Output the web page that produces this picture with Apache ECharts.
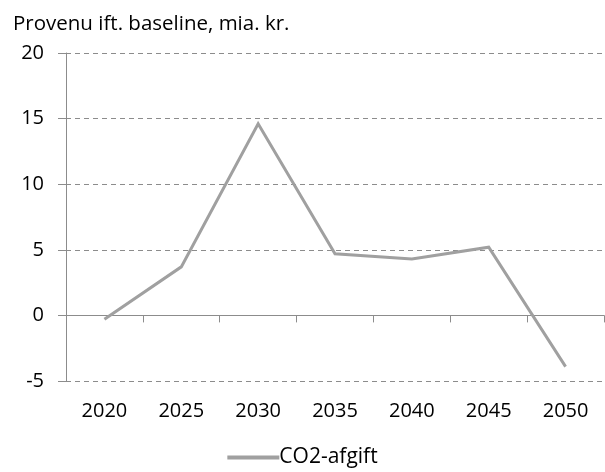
<!DOCTYPE html>
<html>
<head>
<meta charset="utf-8">
<script src="https://cdn.jsdelivr.net/npm/echarts@6/dist/echarts.min.js"></script>
<style>html,body{margin:0;padding:0;background:#fff}#c{width:605px;height:472px}</style>
</head>
<body>
<div id="c"></div>
<script>
const categories = ['2020','2025','2030','2035','2040','2045','2050'];
const co2Values = [-0.3, 3.7, 14.6, 4.7, 4.3, 5.2, -3.9];
const seriesName = 'CO2-afgift';
const titleText = 'Provenu ift. baseline, mia. kr.';
const FONT = '"Open Sans", sans-serif';

const chart = echarts.init(document.getElementById('c'), null, {renderer: 'canvas'});
chart.setOption({
  animation: false,
  backgroundColor: '#fff',
  title: {
    text: titleText, left: 8, top: 9,
    textStyle: {fontFamily: FONT, fontSize: 20.5, fontWeight: 'normal', color: '#000'}
  },
  legend: {
    data: [seriesName], top: 442, left: 'center', icon: 'rect',
    itemWidth: 52, itemHeight: 4, itemGap: 4,
    textStyle: {fontFamily: FONT, fontSize: 21, color: '#000', padding: [0,0,0,-5]}
  },
  grid: {left: 66, right: 1, top: 53, bottom: 91, containLabel: false},
  xAxis: [
    {
      type: 'category', data: categories, position: 'bottom', boundaryGap: true,
      axisLine: {onZero: true, lineStyle: {color: '#8c8c8c', width: 1}},
      axisTick: {show: true, length: 7, inside: false, lineStyle: {color: '#8c8c8c'}},
      axisLabel: {show: false}
    },
    {
      type: 'category', data: categories, position: 'bottom', boundaryGap: true,
      axisLine: {show: false, onZero: false}, axisTick: {show: false},
      axisLabel: {show: true, margin: 20, fontFamily: FONT, fontSize: 20, color: '#000'}
    }
  ],
  yAxis: {
    type: 'value', min: -5, max: 20, interval: 5,
    axisLine: {show: true, lineStyle: {color: '#8c8c8c'}},
    axisTick: {show: true, length: 8, lineStyle: {color: '#8c8c8c'}},
    axisLabel: {margin: 22, fontFamily: FONT, fontSize: 20, color: '#000'},
    splitLine: {show: true, lineStyle: {color: '#8c8c8c', type: [5, 4], width: 1}}
  },
  series: [{
    name: seriesName, type: 'line', xAxisIndex: 0, data: co2Values,
    showSymbol: false, symbol: 'none',
    lineStyle: {color: '#a0a0a0', width: 3, join: 'miter'},
    itemStyle: {color: '#a0a0a0'}
  }]
});
</script>
</body>
</html>
